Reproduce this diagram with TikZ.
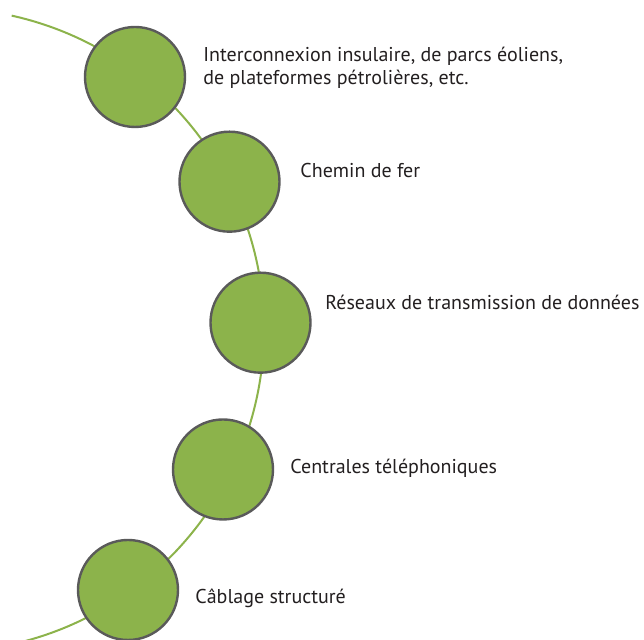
\documentclass[tikz,border=0pt]{standalone}
\usepackage{fontspec}
\setmainfont{PT Sans}
\definecolor{leafgreen}{RGB}{140,179,75}
\definecolor{rimgray}{RGB}{90,90,90}
\definecolor{inkgray}{RGB}{35,31,32}
\begin{document}
\begin{tikzpicture}[x=0.5pt,y=0.5pt,
    dot/.style={circle,draw=rimgray,fill=leafgreen,line width=1.2pt,minimum size=50pt,inner sep=0pt},
    lbl/.style={anchor=base west,inner sep=0pt,text=inkgray,font=\fontsize{10pt}{11.65pt}\selectfont,align=left}]
        \useasboundingbox (0,0) rectangle (644,640);
        \coordinate (ctr) at (-58,310);
        \draw[leafgreen,line width=1pt] (ctr) ++(77.5:161pt) arc[start angle=77.5,end angle=-76,radius=161pt];
        \node[dot] (c1) at (135,563) {};
        \node[dot] (c2) at (229.5,458.3) {};
        \node[dot] (c3) at (260.5,317.3) {};
        \node[dot] (c4) at (223,170.5) {};
        \node[dot] (c5) at (128,50) {};
        \node[lbl] (t1) at (203,555) {Interconnexion insulaire, de parcs éoliens,\\de plateformes pétrolières, etc.};
        \node[lbl] (t2) at (300,462) {Chemin de fer};
        \node[lbl] (t3) at (325,330) {Réseaux de transmission de données};
        \node[lbl] (t4) at (290,166) {Centrales téléphoniques};
        \node[lbl] (t5) at (195,36.7) {Câblage structuré};
    \end{tikzpicture}
\end{document}
